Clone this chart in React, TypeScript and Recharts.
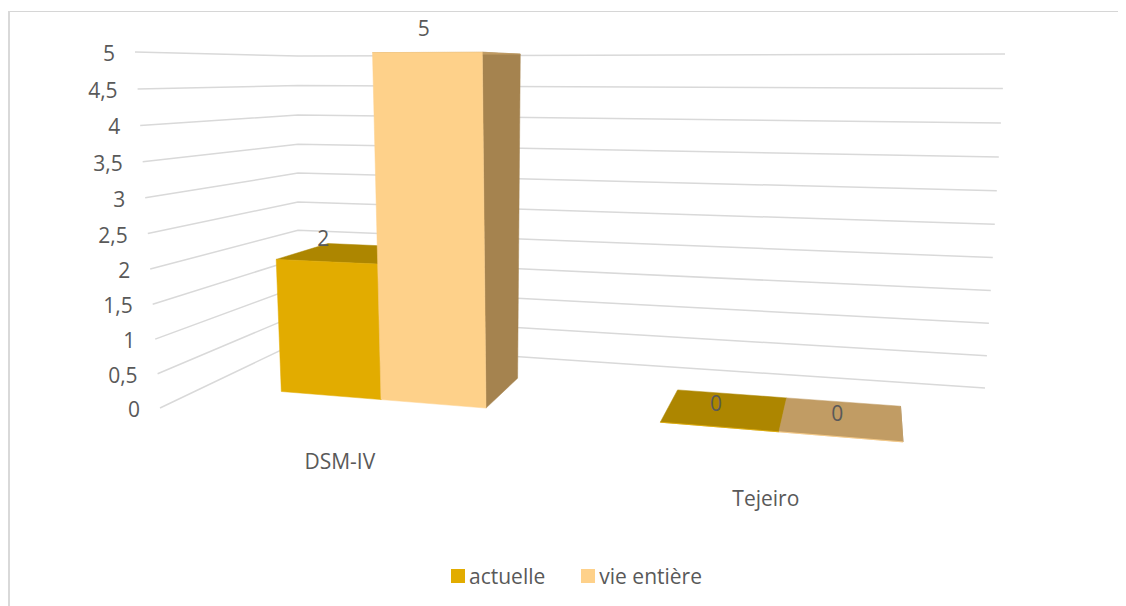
import React from 'react';
import { BarChart, Bar, XAxis, YAxis, CartesianGrid, Legend, LabelList } from 'recharts';

const CATEGORIES = ['DSM-IV', 'Tejeiro'];
const ACTUELLE = [2, 0];
const VIE_ENTIERE = [5, 0];
const Y_TICKS = [0, 0.5, 1, 1.5, 2, 2.5, 3, 3.5, 4, 4.5, 5];

const data = CATEGORIES.map((name, i) => ({ name, actuelle: ACTUELLE[i], vie: VIE_ENTIERE[i] }));

// flat plot box (what recharts lays out), then bent into the 3d box below
const W = 1126;
const H = 606;
const PLOT_LEFT = 100;
const PLOT_W = 918;
const PLOT_TOP = 50;
const PLOT_H = 368;
const PLOT_BOTTOM = PLOT_TOP + PLOT_H;

// screen corners of the 3d box: F/B = front/back, L/R = left/right, b/t = floor/top
const FLb = [160, 408], FRb = [1012, 482], BLb = [298, 342], BRb = [985, 388];
const FLt = [135, 52], FRt = [1032, 48], BLt = [298, 56], BRt = [1005, 54];
const Z0 = 0.341;
const Z1 = 0.735;

const TEXT = '#595959';
const FONT = '"Open Sans", sans-serif';

const warpX = (t: number) => t - 0.17 * t * (1 - t);
const warpY = (t: number) => t - 0.04 * t * (1 - t);

function bil(a: number[], b: number[], c: number[], d: number[], X: number, Z: number) {
  const w = [(1 - X) * (1 - Z), X * (1 - Z), (1 - X) * Z, X * Z];
  return [0, 1].map((k) => a[k] * w[0] + b[k] * w[1] + c[k] * w[2] + d[k] * w[3]);
}

function project(X: number, Y: number, Z: number) {
  const lo = bil(FLb, FRb, BLb, BRb, X, Z);
  const hi = bil(FLt, FRt, BLt, BRt, X, Z);
  return [lo[0] * (1 - Y) + hi[0] * Y, lo[1] * (1 - Y) + hi[1] * Y];
}

const toX = (px: number) => warpX((px - PLOT_LEFT) / PLOT_W);
const toY = (py: number) => warpY((PLOT_BOTTOM - py) / PLOT_H);
const pts = (list: number[][]) => list.map((p) => p[0].toFixed(1) + ',' + p[1].toFixed(1)).join(' ');

const ACT_FACES = { front: '#E2AC00', top: '#AD8600', side: '#9C7800' };
const VIE_FACES = { front: '#FED18A', top: '#C19C64', side: '#A5834F' };

function Bar3D(props: any) {
  const { x, y, width, height, faces } = props;
  if (x == null || y == null) return null;
  const x0 = toX(x);
  const x1 = toX(x + width);
  const yt = toY(y);
  const yb = toY(y + height);
  const side = [project(x1, yb, Z0), project(x1, yb, Z1), project(x1, yt, Z1), project(x1, yt, Z0)];
  const top = [project(x0, yt, Z0), project(x1, yt, Z0), project(x1, yt, Z1), project(x0, yt, Z1)];
  const front = [project(x0, yb, Z0), project(x1, yb, Z0), project(x1, yt, Z0), project(x0, yt, Z0)];
  return (
    <g>
      <polygon points={pts(side)} fill={faces.side} stroke={faces.side} strokeWidth={0.5} />
      <polygon points={pts(top)} fill={faces.top} stroke={faces.top} strokeWidth={0.5} />
      <polygon points={pts(front)} fill={faces.front} stroke={faces.front} strokeWidth={0.5} />
    </g>
  );
}

function ValueLabel(props: any) {
  const { x, y, width, value } = props;
  if (x == null) return null;
  const p = project(toX(x + width / 2), toY(y), Z0);
  return (
    <text x={p[0] - 3} y={p[1] - 24} textAnchor="middle" dominantBaseline="central"
      fill={TEXT} fontSize={21} fontFamily={FONT}>
      {String(value).replace('.', ',')}
    </text>
  );
}

function GridLine(props: any) {
  const { y1 } = props;
  const Y = toY(y1);
  const line = [project(0, Y, 0), project(0, Y, 1), project(1, Y, 1)];
  return <polyline key={'g' + y1} points={pts(line)} fill="none" stroke="#d9d9d9" strokeWidth={1.5} />;
}

function YTick(props: any) {
  const { y, payload } = props;
  const p = project(0, toY(y), 0);
  return (
    <text x={p[0] - 20} y={p[1] + 1} textAnchor="end" dominantBaseline="central"
      fill={TEXT} fontSize={21} fontFamily={FONT}>
      {String(payload.value).replace('.', ',')}
    </text>
  );
}

function XTick(props: any) {
  const { x, payload } = props;
  const p = project(toX(x), 0, 0);
  return (
    <text x={p[0] - 6} y={p[1] + 37} textAnchor="middle" dominantBaseline="central"
      fill={TEXT} fontSize={21} fontFamily={FONT}>
      {payload.value}
    </text>
  );
}

function LegendBox(props: any) {
  const items = props.payload || [];
  return (
    <div style={{ display: 'flex', justifyContent: 'center', alignItems: 'center', height: 28, marginLeft: 27,
      fontFamily: FONT, fontSize: 21, color: TEXT }}>
      {items.map((it: any, i: number) => (
        <div key={i} style={{ display: 'flex', alignItems: 'center', marginRight: i < items.length - 1 ? 36 : 0 }}>
          <span style={{ width: 14, height: 14, background: it.color, marginRight: 4, display: 'inline-block' }} />
          <span style={{ lineHeight: '28px' }}>{it.value}</span>
        </div>
      ))}
    </div>
  );
}

export default function App() {
  return (
    <div style={{ position: 'relative', margin: '-8px 0 0 -8px', width: W, height: H, overflow: 'hidden', background: '#fff' }}>
      <style>{'html, body { overflow: hidden; }'}</style>
      <div style={{ position: 'absolute', left: 8, top: 11, width: W - 8, height: 1, background: '#d6d6d6' }} />
      <div style={{ position: 'absolute', left: 8, top: 11, width: 2, height: H - 11, background: '#d9d9d9' }} />
      <BarChart width={W} height={H} data={data} barCategoryGap="22%" barGap={0}
        margin={{ top: PLOT_TOP, right: W - PLOT_LEFT - PLOT_W, bottom: H - PLOT_BOTTOM - 30, left: PLOT_LEFT - 60 }}>
        <CartesianGrid vertical={false} horizontal={GridLine} />
        <XAxis dataKey="name" height={30} axisLine={false} tickLine={false} tick={XTick} interval={0} />
        <YAxis width={60} domain={[0, 5]} ticks={Y_TICKS} interval={0} axisLine={false} tickLine={false} tick={YTick} />
        <Legend verticalAlign="middle" layout="horizontal" align="center"
          wrapperStyle={{ top: 562, left: 0, width: W, height: 28 }} content={LegendBox} />
        <Bar dataKey="actuelle" name="actuelle" fill={ACT_FACES.front} isAnimationActive={false}
          shape={(p: any) => <Bar3D {...p} faces={ACT_FACES} />}>
          <LabelList dataKey="actuelle" content={ValueLabel} />
        </Bar>
        <Bar dataKey="vie" name="vie entière" fill={VIE_FACES.front} isAnimationActive={false}
          shape={(p: any) => <Bar3D {...p} faces={VIE_FACES} />}>
          <LabelList dataKey="vie" content={ValueLabel} />
        </Bar>
      </BarChart>
    </div>
  );
}
